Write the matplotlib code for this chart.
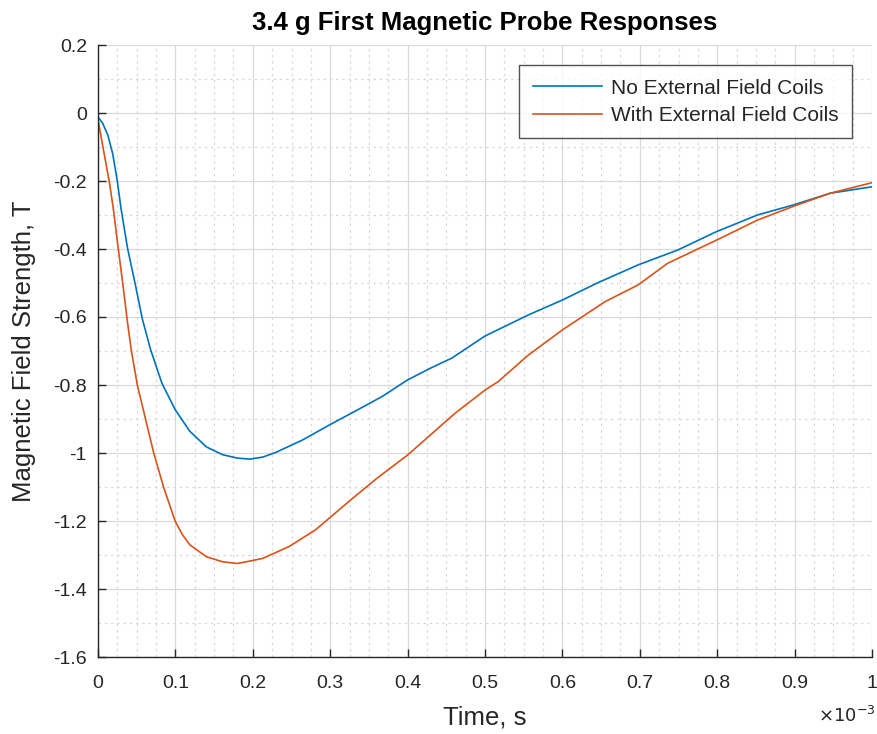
import numpy as np
import matplotlib
matplotlib.use('Agg')
import matplotlib.pyplot as plt
from matplotlib.ticker import MultipleLocator, FuncFormatter

# time in ms (plotted with a x10^-3 note), field strength in T
t_no_coils = [0, 0.006, 0.0127, 0.019, 0.0246, 0.0297, 0.0381, 0.0487, 0.0572, 0.0678,
              0.0826, 0.0996, 0.1186, 0.14, 0.161, 0.18, 0.196, 0.213, 0.23,
              0.264, 0.2986, 0.333, 0.367, 0.4, 0.43, 0.457, 0.5, 0.556, 0.6,
              0.646, 0.6976, 0.749, 0.799, 0.852, 0.899, 0.946, 1.0]
b_no_coils = [-0.012, -0.03, -0.065, -0.12, -0.195, -0.28, -0.397, -0.51, -0.605, -0.695,
              -0.795, -0.872, -0.936, -0.982, -1.005, -1.015, -1.018, -1.012, -0.998,
              -0.962, -0.918, -0.876, -0.834, -0.785, -0.75, -0.721, -0.656, -0.594, -0.55,
              -0.499, -0.447, -0.403, -0.349, -0.3, -0.27, -0.236, -0.217]

t_with_coils = [0, 0.0064, 0.0148, 0.020, 0.0254, 0.0318, 0.038, 0.0432, 0.0508,
                0.0614, 0.072, 0.0847, 0.0996, 0.109, 0.1186, 0.14, 0.161, 0.18, 0.196,
                0.2127, 0.247, 0.281, 0.311, 0.3265, 0.36, 0.4, 0.4614, 0.5, 0.517,
                0.556, 0.6, 0.655, 0.6976, 0.736, 0.799, 0.852, 0.899, 0.946, 1.0]
b_with_coils = [-0.02, -0.1, -0.205, -0.285, -0.385, -0.498, -0.614, -0.7, -0.8,
                -0.9, -1.0, -1.1, -1.2, -1.24, -1.27, -1.305, -1.32, -1.325, -1.318,
                -1.31, -1.275, -1.226, -1.168, -1.138, -1.075, -1.006, -0.883, -0.815, -0.79,
                -0.712, -0.638, -0.555, -0.506, -0.442, -0.374, -0.315, -0.274, -0.236, -0.205]

labels = ['No External Field Coils', 'With External Field Coils']
colors = ['#0072BD', '#D95319']

plt.rcParams['font.family'] = ['Liberation Sans', 'DejaVu Sans']
dark = '#262626'

fig = plt.figure(figsize=(8.77, 7.34), dpi=100)
ax = fig.add_axes([98 / 877, 77 / 734, 774 / 877, 612 / 734])

ax.plot(t_no_coils, b_no_coils, color=colors[0], lw=1.2, label=labels[0])
ax.plot(t_with_coils, b_with_coils, color=colors[1], lw=1.2, label=labels[1])

ax.set_xlim(0, 1)
ax.set_ylim(-1.6, 0.2)
ax.xaxis.set_major_locator(MultipleLocator(0.1))
ax.xaxis.set_minor_locator(MultipleLocator(0.025))
ax.yaxis.set_major_locator(MultipleLocator(0.2))
ax.yaxis.set_minor_locator(MultipleLocator(0.1))
fmt = FuncFormatter(lambda v, p: '%g' % round(v, 6))
ax.xaxis.set_major_formatter(fmt)
ax.yaxis.set_major_formatter(fmt)

ax.grid(which='major', color='#d9d9d9', lw=0.9, ls='-')
ax.grid(which='minor', color='#d9d9d9', lw=0.9, ls=(0, (2, 3)))
ax.set_axisbelow(True)

for s in ['top', 'right']:
    ax.spines[s].set_visible(False)
for s in ['left', 'bottom']:
    ax.spines[s].set_color(dark)
    ax.spines[s].set_linewidth(1.0)
ax.tick_params(which='major', direction='in', length=6, width=1.0, color=dark,
               labelcolor=dark, labelsize=14)
ax.tick_params(axis='x', which='major', pad=13)
ax.tick_params(axis='y', which='major', pad=8)
ax.tick_params(which='minor', length=0)

ax.set_xlabel('Time, s', fontsize=18.5, color=dark, labelpad=10)
ax.set_ylabel('Magnetic Field Strength, T', fontsize=18.5, color=dark, labelpad=12)
ax.set_title('3.4 g First Magnetic Probe Responses', fontsize=18.5, fontweight='bold',
             color='black', pad=11)
fig.text(876 / 877, 1 - 716 / 734, r'$\times10^{-3}$', ha='right', va='center',
         fontsize=13, color=dark)

leg = ax.legend(loc='upper right', bbox_to_anchor=((852 - 98) / 774, (657 - 65) / 612),
                borderaxespad=0, fontsize=15, frameon=True, fancybox=False,
                handlelength=3.35, borderpad=0.65, labelspacing=0.4, handletextpad=0.4)
leg.get_frame().set_edgecolor(dark)
leg.get_frame().set_linewidth(1.0)
for txt in leg.get_texts():
    txt.set_color(dark)

fig.savefig('out.png', dpi=100)
